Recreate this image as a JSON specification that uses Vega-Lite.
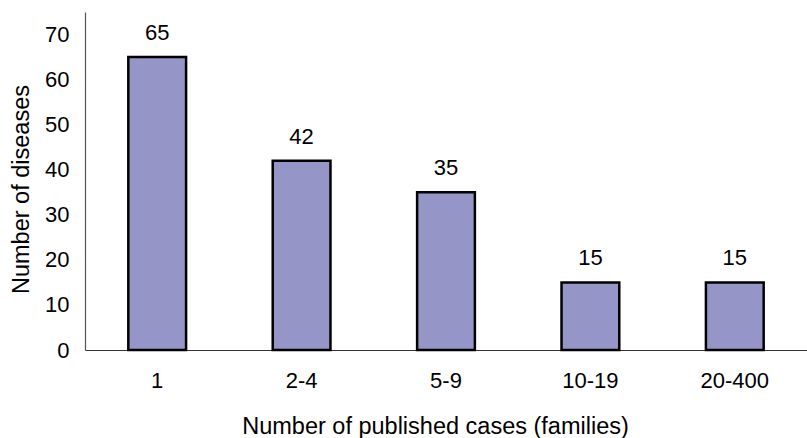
{
  "$schema": "https://vega.github.io/schema/vega-lite/v6.json",
  "width": 722,
  "height": 338,
  "autosize": {"type": "none"},
  "padding": {"left": 85, "top": 12, "right": 0, "bottom": 88},
  "background": "white",
  "config": {
    "view": {"stroke": null},
    "font": "Liberation Sans"
  },
  "data": {
    "values": [
      {"cases": "1", "diseases": 65},
      {"cases": "2-4", "diseases": 42},
      {"cases": "5-9", "diseases": 35},
      {"cases": "10-19", "diseases": 15},
      {"cases": "20-400", "diseases": 15}
    ]
  },
  "encoding": {
    "x": {
      "field": "cases", "type": "nominal", "sort": null,
      "scale": {"paddingInner": 0.6, "paddingOuter": 0.3},
      "axis": {
        "title": "Number of published cases (families)",
        "labelAngle": 0, "ticks": false, "labelPadding": 20,
        "labelFontSize": 22, "labelColor": "#000", "labelFont": "Liberation Sans",
        "titleFontSize": 23.5, "titleFontWeight": "normal", "titleColor": "#000", "titleFont": "Liberation Sans",
        "titlePadding": 23, "titleX": 350,
        "domainColor": "#333", "domainWidth": 1.2
      }
    },
    "y": {
      "field": "diseases", "type": "quantitative",
      "scale": {"domain": [0, 75], "nice": false},
      "axis": {
        "title": "Number of diseases",
        "values": [0, 10, 20, 30, 40, 50, 60, 70],
        "grid": false, "ticks": false, "labelPadding": 16,
        "labelFontSize": 22, "labelColor": "#000", "labelFont": "Liberation Sans",
        "titleFontSize": 23.5, "titleFontWeight": "normal", "titleColor": "#000", "titleFont": "Liberation Sans",
        "titlePadding": 11, "titleY": 177,
        "domainColor": "#555", "domainWidth": 1.2
      }
    }
  },
  "layer": [
    {
      "mark": {"type": "bar", "fill": "#9595c8", "stroke": "#000", "strokeWidth": 2.5}
    },
    {
      "mark": {"type": "text", "dy": -24, "fontSize": 22, "color": "#000", "font": "Liberation Sans"},
      "encoding": {"text": {"field": "diseases", "type": "quantitative"}}
    }
  ]
}
